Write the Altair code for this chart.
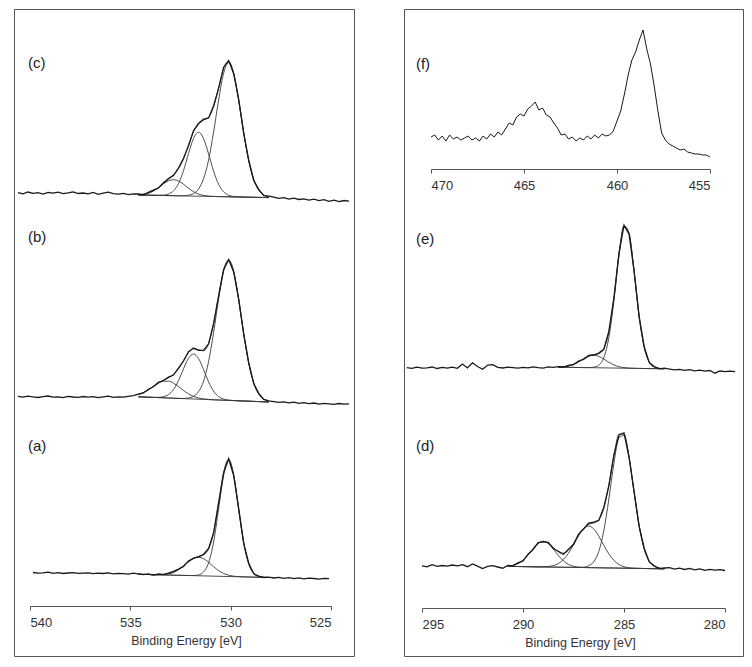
import altair as alt
import pandas as pd

# ---------------- O 1s panel (left) ----------------
E_O = [540.6, 540.35, 540.1, 539.85, 539.6, 539.35, 539.1, 538.85, 538.6, 538.35, 538.1, 537.85,
       537.6, 537.35, 537.1, 536.85, 536.6, 536.35, 536.1, 535.85, 535.6, 535.35, 535.1, 534.85,
       534.6, 534.35, 534.1, 533.85, 533.6, 533.35, 533.1, 532.85, 532.6, 532.35, 532.1, 531.85,
       531.6, 531.35, 531.1, 530.85, 530.6, 530.35, 530.1, 529.85, 529.6, 529.35, 529.1, 528.85,
       528.6, 528.35, 528.1,
       527.85, 527.6, 527.35, 527.1, 526.85, 526.6, 526.35, 526.1, 525.85, 525.6, 525.35, 525.1,
       524.85, 524.6, 524.35, 524.1]
E_O_FIT = E_O[24:51]
TICKS_O = [540, 535, 530, 525]

RAW_C = [8.4, 7.2, 9.0, 7.6, 8.3, 6.9, 8.7, 7.8, 8.9, 7.4, 8.1, 9.2, 7.5, 8.0, 7.1, 8.6, 6.6, 7.9, 8.8, 7.3, 6.9, 7.7, 6.4, 7.2,
         7.0, 6.2, 8.6, 10.9, 13.0, 18.3, 22.4, 25.6, 33.0, 42.8, 55.1, 70.4, 77.2, 81.8, 83.1, 95.2, 112.6, 133.8, 140.5, 127.3,
         101.6, 67.7, 40.9, 20.6, 11.5, 5.4, 4.8,
         3.9, 2.6, 3.4, 1.8, 2.9, 1.5, 2.2, 0.8, 1.9, 0.4, 1.3, -0.3, 0.9, -0.6, 0.5, -0.2]
ENV_C = [6.3, 6.8, 7.9, 10.1, 13.4, 17.5, 21.7, 26.2, 32.2, 42.1, 55.9, 69.5, 78.1, 80.9, 83.7, 94.4, 113.3, 132.7, 139.7, 128.0,
         100.8, 68.4, 40.2, 21.3, 10.8, 6.0, 4.2]
C3_C = [6.3, 6.8, 7.9, 10.1, 13.3, 17.1, 20.2, 21.3, 20.0, 16.7, 12.7, 9.3, 6.9, 5.6, 4.9, 4.6, 4.4, 4.3, 4.2, 4.1,
        4.0, 3.9, 3.8, 3.7, 3.6, 3.5, 3.4]
C2_C = [6.0, 5.9, 5.8, 5.7, 5.7, 5.9, 6.9, 10.2, 17.4, 30.4, 47.4, 62.6, 68.8, 62.4, 47.0, 29.8, 16.6, 9.2, 5.7, 4.5,
        4.1, 3.9, 3.8, 3.7, 3.6, 3.5, 3.4]
C1_C = [6.0, 5.9, 5.8, 5.7, 5.6, 5.5, 5.4, 5.3, 5.2, 5.2, 5.8, 7.4, 12.0, 22.3, 41.0, 69.0, 101.1, 127.8, 138.2, 127.6,
        100.7, 68.4, 40.2, 21.3, 10.8, 6.0, 4.2]
BG_C = [6.0, 3.4]

RAW_B = [7.6, 6.8, 7.9, 7.1, 6.5, 7.4, 8.0, 6.9, 7.2, 6.3, 7.7, 7.0, 6.6, 7.5, 6.9, 7.3, 6.4, 7.1, 7.8, 6.7, 7.2, 6.8, 7.6, 8.4,
         9.8, 11.0, 14.8, 17.2, 21.6, 23.5, 26.9, 29.0, 35.8, 43.0, 52.2, 55.9, 53.6, 53.8, 60.0, 80.7, 107.9, 134.6, 144.4, 132.0,
         104.8, 69.8, 41.3, 20.4, 10.6, 4.5, 3.2,
         2.4, 1.6, 2.2, 1.1, 1.8, 0.6, 1.4, 0.3, 1.0, -0.2, 0.7, 0.1, -0.4, 0.5, -0.1, 0.2]
ENV_B = [9.5, 11.4, 14.2, 17.6, 21.1, 23.9, 26.2, 29.4, 35.2, 43.4, 51.5, 55.3, 54.2, 53.2, 60.5, 80.1, 108.5, 134.0, 143.9, 132.5,
         104.3, 70.3, 40.9, 20.9, 10.0, 4.9, 2.8]
C3_B = [9.5, 11.4, 14.2, 17.6, 20.8, 22.8, 22.8, 20.8, 17.4, 13.5, 10.1, 7.6, 6.0, 5.1, 4.6, 4.2, 4.0, 3.8, 3.6, 3.4,
        3.2, 3.0, 2.8, 2.6, 2.4, 2.2, 2.0]
C2_B = [7.2, 7.0, 6.8, 6.6, 6.7, 7.3, 9.4, 14.4, 23.4, 35.2, 45.8, 50.0, 45.4, 34.4, 22.2, 12.8, 7.4, 4.9, 3.9, 3.5,
        3.2, 3.0, 2.8, 2.6, 2.4, 2.2, 2.0]
C1_B = [7.2, 7.0, 6.8, 6.6, 6.4, 6.2, 6.0, 5.8, 5.6, 5.5, 6.0, 7.7, 12.4, 22.9, 42.5, 71.5, 105.1, 132.9, 143.6, 132.5,
        104.3, 70.3, 40.9, 20.9, 10.0, 4.9, 2.8]
BG_B = [7.2, 2.0]

E_A = E_O[3:63]
RAW_A = [6.5, 5.8, 6.2, 6.9, 5.7, 6.3, 5.5, 6.0, 6.4, 5.6, 5.9, 6.2, 5.3, 5.8, 5.5, 6.1, 5.2, 5.7, 5.4, 4.9, 5.8,
         5.2, 4.3, 5.1, 3.9, 5.0, 4.4, 5.9, 7.6, 9.9, 12.6, 17.9, 20.9, 22.1, 24.8, 30.6, 46.0, 76.4, 106.1, 120.3, 103.5,
         70.4, 35.7, 15.8, 5.2, 2.9, 1.4, 1.9,
         1.0, 1.6, 0.7, 1.3, 0.4, 1.1, 0.2, 0.9, 0.5, -0.2, 0.6, 0.3]
ENV_A = [4.7, 4.6, 4.5, 4.3, 4.4, 4.6, 5.3, 6.7, 9.4, 13.1, 17.3, 20.7, 22.6, 24.2, 30.0, 46.5, 75.8, 106.8, 119.8, 104.1,
         69.8, 36.3, 15.2, 5.7, 2.6, 1.8, 1.5]
C2_A = [4.7, 4.6, 4.5, 4.3, 4.4, 4.6, 5.3, 6.7, 9.4, 13.1, 17.3, 20.5, 21.7, 20.3, 16.8, 12.3, 8.4, 5.5, 3.8, 2.8,
        2.4, 2.1, 2.0, 1.8, 1.7, 1.6, 1.5]
C1_A = [4.7, 4.6, 4.5, 4.3, 4.2, 4.1, 4.0, 3.8, 3.7, 3.6, 3.5, 3.5, 4.1, 7.0, 16.2, 37.0, 70.1, 103.9, 118.5, 103.6,
        69.6, 36.3, 15.2, 5.7, 2.6, 1.8, 1.5]
BG_A = [4.7, 1.5]

# vertical stacking offsets of the spectra (layout)
OFF_O = {"a": 77, "b": 252, "c": 455}

LABELS_O = ["(a)", "(b)", "(c)"]
LABEL_O_E = [540.1, 540.1, 540.1]
LABEL_O_V = [210, 419, 593]

# ---------------- C 1s (lower right) and Ti 2p (top right) ----------------
E_R = [295.75, 295.5, 295.25, 295.0, 294.75, 294.5, 294.25, 294.0, 293.75, 293.5, 293.25, 293.0,
       292.75, 292.5, 292.25, 292.0, 291.75, 291.5, 291.25, 291.0, 290.75, 290.5, 290.25, 290.0,
       289.75, 289.5, 289.25, 289.0, 288.75, 288.5, 288.25, 288.0, 287.75, 287.5, 287.25, 287.0,
       286.75, 286.5, 286.25, 286.0, 285.75, 285.5, 285.25, 285.0, 284.75, 284.5, 284.25, 284.0,
       283.75, 283.5, 283.25, 283.0, 282.75, 282.5, 282.25, 282.0, 281.75, 281.5, 281.25, 281.0,
       280.75, 280.5, 280.25, 280.0, 279.75, 279.5]
TICKS_C = [295, 290, 285, 280]

E_D = E_R[3:64]
E_D_FIT = E_R[20:52]
RAW_D = [5.2, 4.1, 6.3, 4.6, 5.5, 4.8, 6.0, 5.1, 6.4, 4.3, 7.0, 4.9, 2.5, 4.6, 5.3, 4.0, 2.8,
         5.6, 5.1, 8.2, 10.1, 16.8, 21.5, 28.4, 29.1, 28.6, 22.5, 19.8, 16.5, 21.9, 26.5, 36.8, 42.0, 47.8, 48.9, 50.6, 63.5,
         85.2, 116.0, 136.0, 138.2, 113.6, 79.5, 44.6, 22.8, 9.1, 5.3, 2.4, 3.0,
         3.4, 1.8, 2.9, 1.5, 2.6, 1.1, 2.2, 0.6, 1.7, 0.9, 1.4, 0.5]
ENV_D = [5.0, 5.6, 7.4, 10.7, 16.0, 22.2, 27.5, 29.8, 27.9, 23.4, 19.1, 17.8, 20.7, 27.3, 35.7, 42.7, 46.7, 48.0, 51.2, 62.8,
         86.0, 115.3, 136.8, 137.1, 114.3, 78.8, 45.3, 22.1, 9.8, 4.6, 2.9, 2.3]
C3_D = [5.0, 5.6, 7.4, 10.7, 16.0, 22.2, 27.5, 29.6, 27.4, 21.9, 15.5, 10.1, 6.6, 4.7, 3.9, 3.5, 3.4, 3.3, 3.2, 3.1,
        3.0, 3.0, 2.9, 2.8, 2.7, 2.6, 2.6, 2.5, 2.4, 2.3, 2.3, 2.2]
C2_D = [4.6, 4.5, 4.5, 4.4, 4.3, 4.2, 4.1, 4.3, 4.5, 5.4, 7.4, 11.5, 17.8, 26.2, 35.2, 42.2, 44.9, 42.1, 34.9, 25.7,
        17.1, 10.7, 6.5, 4.3, 3.2, 2.8, 2.6, 2.5, 2.4, 2.3, 2.3, 2.2]
C1_D = [4.6, 4.5, 4.5, 4.4, 4.3, 4.2, 4.1, 4.1, 4.0, 3.9, 3.8, 3.8, 3.7, 3.6, 3.6, 3.8, 5.2, 9.2, 19.5, 40.2,
        71.9, 107.6, 133.2, 135.6, 113.8, 78.6, 45.3, 22.1, 9.8, 4.6, 2.9, 2.3]
BG_D = [4.6, 2.2]

E_E_FIT = E_R[30:52]
RAW_E = [4.4, 3.6, 4.9, 3.8, 4.2, 5.0, 3.5, 4.6, 3.9, 4.8, 3.7, 8.0, 4.1, 9.2, 5.5, 2.8, 6.9, 7.4, 4.6, 4.0,
         4.9, 4.3, 3.8, 4.7, 4.2, 5.1, 4.4, 3.9, 5.2, 4.6,
         5.3, 5.0, 6.6, 7.3, 10.8, 12.7, 16.5, 17.0, 18.9, 22.7, 40.6, 73.8, 118.4, 146.8, 137.9, 101.2, 55.1, 25.4, 9.4, 5.5,
         3.1, 3.8,
         2.9, 2.1, 2.7, 1.6, 2.3, 1.2, 1.9, 0.8, 1.5, -1.2, 1.0, 0.4, 0.9, 0.3]
ENV_E = [5.0, 5.3, 6.0, 7.7, 10.2, 13.2, 15.9, 17.3, 18.3, 23.2, 40.0, 74.3, 117.8, 146.3, 138.8, 100.4, 55.7, 24.7, 9.9, 4.9,
         3.6, 3.3]
C2_E = [5.0, 5.3, 6.0, 7.7, 10.2, 13.2, 15.8, 16.8, 15.7, 12.9, 9.7, 7.1, 5.3, 4.4, 3.9, 3.7, 3.6, 3.5, 3.4, 3.4,
        3.3, 3.2]
C1_E = [4.8, 4.7, 4.6, 4.6, 4.5, 4.4, 4.4, 4.8, 6.8, 14.4, 34.3, 71.2, 116.4, 145.7, 138.6, 100.3, 55.7, 24.7, 9.9, 4.9,
        3.6, 3.3]
BG_E = [4.8, 3.2]

E_F = [470.0, 469.8, 469.6, 469.4, 469.2, 469.0, 468.8, 468.6, 468.4, 468.2, 468.0, 467.8, 467.6, 467.4, 467.2,
       467.0, 466.8, 466.6, 466.4, 466.2, 466.0, 465.8, 465.6, 465.4, 465.2, 465.0, 464.8, 464.6, 464.4, 464.2,
       464.0, 463.8, 463.6, 463.4, 463.2, 463.0, 462.8, 462.6, 462.4, 462.2, 462.0, 461.8, 461.6, 461.4, 461.2,
       461.0, 460.8, 460.6, 460.4, 460.2, 460.0, 459.8, 459.6, 459.4, 459.2, 459.0, 458.8, 458.6, 458.4, 458.2,
       458.0, 457.8, 457.6, 457.4, 457.2, 457.0, 456.8, 456.6, 456.4, 456.2, 456.0, 455.8, 455.6, 455.4, 455.2,
       455.0]
RAW_F = [24, 26, 21, 25, 20, 26, 22, 24, 21, 23, 25, 21, 23, 20, 25, 22, 27, 24, 29, 26,
         32, 38, 36, 44, 47, 45, 52, 55, 59, 51, 53, 46, 44, 38, 33, 26, 27,
         22, 24, 20, 23, 21, 25, 22, 26, 23, 27, 25,
         26, 30, 40, 50, 67, 86, 101, 109, 121, 131, 112, 97, 75, 50, 28, 21, 17, 15, 13, 11, 12, 9, 8, 7, 7, 6, 6, 4]
TICKS_F = [470, 465, 460, 455]

OFF_R = {"d": 85, "e": 284, "f": 495}

LABELS_R = ["(d)", "(e)", "(f)"]
LABEL_R_E = [295.3, 295.3, 295.3]
LABEL_R_V = [210, 417, 592]

FONT = "Liberation Sans"
INK = "#1a1a1a"
FIT_INK = "#3a3a3a"
AXIS_INK = "#555555"
TEXT_INK = "#333333"


def curve(E, vals, off, name, field="E"):
    return pd.DataFrame({field: E, "V": [v + off for v in vals], "curve": name})


# ---- left tables
raw_o = pd.concat([
    curve(E_O, RAW_C, OFF_O["c"], "c"),
    curve(E_O, RAW_B, OFF_O["b"], "b"),
    curve(E_A, RAW_A, OFF_O["a"], "a"),
])
fit_o = pd.concat([
    curve(E_O_FIT, ENV_C, OFF_O["c"], "c_env"), curve(E_O_FIT, C1_C, OFF_O["c"], "c_1"),
    curve(E_O_FIT, C2_C, OFF_O["c"], "c_2"), curve(E_O_FIT, C3_C, OFF_O["c"], "c_3"),
    curve([E_O_FIT[0], E_O_FIT[-1]], BG_C, OFF_O["c"], "c_bg"),
    curve(E_O_FIT, ENV_B, OFF_O["b"], "b_env"), curve(E_O_FIT, C1_B, OFF_O["b"], "b_1"),
    curve(E_O_FIT, C2_B, OFF_O["b"], "b_2"), curve(E_O_FIT, C3_B, OFF_O["b"], "b_3"),
    curve([E_O_FIT[0], E_O_FIT[-1]], BG_B, OFF_O["b"], "b_bg"),
    curve(E_O_FIT, ENV_A, OFF_O["a"], "a_env"), curve(E_O_FIT, C1_A, OFF_O["a"], "a_1"),
    curve(E_O_FIT, C2_A, OFF_O["a"], "a_2"),
    curve([E_O_FIT[0], E_O_FIT[-1]], BG_A, OFF_O["a"], "a_bg"),
])
lab_o = pd.DataFrame({"E": LABEL_O_E, "V": LABEL_O_V, "t": LABELS_O})

# ---- right tables
raw_r = pd.concat([
    curve(E_D, RAW_D, OFF_R["d"], "d"),
    curve(E_R, RAW_E, OFF_R["e"], "e"),
])
fit_r = pd.concat([
    curve(E_D_FIT, ENV_D, OFF_R["d"], "d_env"), curve(E_D_FIT, C1_D, OFF_R["d"], "d_1"),
    curve(E_D_FIT, C2_D, OFF_R["d"], "d_2"), curve(E_D_FIT, C3_D, OFF_R["d"], "d_3"),
    curve([E_D_FIT[0], E_D_FIT[-1]], BG_D, OFF_R["d"], "d_bg"),
    curve(E_E_FIT, ENV_E, OFF_R["e"], "e_env"), curve(E_E_FIT, C1_E, OFF_R["e"], "e_1"),
    curve(E_E_FIT, C2_E, OFF_R["e"], "e_2"),
    curve([E_E_FIT[0], E_E_FIT[-1]], BG_E, OFF_R["e"], "e_bg"),
])
lab_r = pd.DataFrame({"E": LABEL_R_E, "V": LABEL_R_V, "t": LABELS_R})
raw_f = curve(E_F, RAW_F, OFF_R["f"], "f", field="Ef")

W_L, W_R, H = 340, 339, 647

Y = alt.Y("V:Q", scale=alt.Scale(domain=[0, H]), axis=None)

axis_common = dict(domainColor=AXIS_INK, tickColor=AXIS_INK, labelColor=TEXT_INK, titleColor=TEXT_INK,
                   labelFont=FONT, titleFont=FONT, labelFontSize=13, titleFontSize=12.5,
                   titleFontWeight="normal", grid=False, tickSize=4, labelPadding=6, titlePadding=5,
                   orient="bottom")

X_O = alt.X("E:Q", scale=alt.Scale(domain=[540, 525], range=[16, 317]),
            axis=alt.Axis(values=TICKS_O, title="Binding Energy [eV]", offset=-50, titleX=172, **axis_common))
X_C = alt.X("E:Q", scale=alt.Scale(domain=[295, 280], range=[18, 321]),
            axis=alt.Axis(values=TICKS_C, title="Binding Energy [eV]", offset=-48, titleX=176, **axis_common))
X_F = alt.X("Ef:Q", scale=alt.Scale(domain=[470, 455], range=[27, 306]),
            axis=alt.Axis(values=TICKS_F, title=None, offset=-487, **axis_common))

raw_style = dict(color=INK, strokeWidth=1.3, interpolate="linear")
fit_style = dict(color=FIT_INK, strokeWidth=0.9, interpolate="monotone")
txt_style = dict(align="left", baseline="middle", font=FONT, fontSize=15, color="#222222")

left = alt.layer(
    alt.Chart(fit_o).mark_line(**fit_style).encode(x=X_O, y=Y, detail="curve:N"),
    alt.Chart(raw_o).mark_line(**raw_style).encode(x=X_O, y=Y, detail="curve:N"),
    alt.Chart(lab_o).mark_text(**txt_style).encode(x=X_O, y=Y, text="t:N"),
).properties(width=W_L, height=H)

right_lower = alt.layer(
    alt.Chart(fit_r).mark_line(**fit_style).encode(x=X_C, y=Y, detail="curve:N"),
    alt.Chart(raw_r).mark_line(**raw_style).encode(x=X_C, y=Y, detail="curve:N"),
    alt.Chart(lab_r).mark_text(**txt_style).encode(x=X_C, y=Y, text="t:N"),
)
right_top = alt.Chart(raw_f).mark_line(color=INK, strokeWidth=1.0).encode(x=X_F, y=Y)

right = alt.layer(right_lower, right_top).resolve_scale(x="independent").properties(width=W_R, height=H)

chart = alt.hconcat(left, right, spacing=48).properties(
    padding={"left": 5, "top": 0, "right": 0, "bottom": 0}
).configure_view(stroke=AXIS_INK, strokeWidth=1)

chart.save("out.html", embed_options={"renderer": "svg", "actions": False})
